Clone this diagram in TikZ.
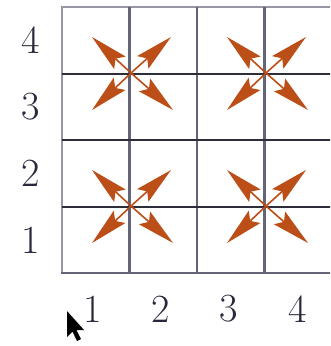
\documentclass[tikz,border=0pt]{standalone}
\definecolor{arrowc}{RGB}{188,78,24}
\definecolor{vline}{RGB}{100,100,120}
\definecolor{hline}{RGB}{45,45,60}
\definecolor{outline}{RGB}{150,150,165}
\definecolor{labc}{RGB}{40,40,60}
\tikzset{
  outerline/.style={draw=outline, line width=2pt},
  vgrid/.style={draw=vline, line width=2.2pt},
  hgrid/.style={draw=hline, line width=2pt},
  shaft/.style={draw=arrowc, line width=1.6pt, shorten >=12pt},
  headk/.pic={\fill[arrowc] (0,0) -- (-38,-8.5) -- (-32,0) -- (-38,8.5) -- cycle;},
  lab/.style={text=labc, font=\fontsize{40}{40}\selectfont, inner sep=0pt},
}
\begin{document}
\begin{tikzpicture}[x=1pt,y=-1pt]
\useasboundingbox (0,0) rectangle (330,346);
\clip (0,0) rectangle (330,346);
\fill[white] (0,0) rectangle (330,346);
% grid
\draw[outerline] (332,7) -- (62,7) -- (62,273);
\foreach \x in {129.5,197,264.5,332} \draw[vgrid] (\x,7) -- (\x,273);
\foreach \y in {73.5,140,206.5} \draw[hgrid] (62,\y) -- (332,\y);
\draw[vgrid] (61,273) -- (332,273);
% arrow centres
\coordinate (c1) at (131,73);
\coordinate (c2) at (266,73);
\coordinate (c3) at (131,206);
\coordinate (c4) at (266,206);
\foreach \c in {c1,c2,c3,c4}{
  \coordinate (\c ul) at ([shift={(-39,-36)}]\c);
  \coordinate (\c ur) at ([shift={(40,-36)}]\c);
  \coordinate (\c ll) at ([shift={(-39,37)}]\c);
  \coordinate (\c lr) at ([shift={(42,37)}]\c);
  \draw[shaft] (\c) -- (\c ul);
  \draw[shaft] (\c) -- (\c ur);
  \draw[shaft] (\c) -- (\c ll);
  \draw[shaft] (\c) -- (\c lr);
  \pic[rotate=137.3] at (\c ul) {headk};
  \pic[rotate=42] at (\c ur) {headk};
  \pic[rotate=223.5] at (\c ll) {headk};
  \pic[rotate=-41.4] at (\c lr) {headk};
}
% labels
\node[lab] (y4) at (31,40) {4};
\node[lab] (y3) at (31,107) {3};
\node[lab] (y2) at (31,173) {2};
\node[lab] (y1) at (31,240) {1};
\node[lab] (x1) at (93,309) {1};
\node[lab] (x2) at (161,309) {2};
\node[lab] (x3) at (229,309) {3};
\node[lab] (x4) at (298,309) {4};
% cursor
\fill[black] (67,311) -- (67,337) -- (72.5,331.5) -- (77,341) -- (81,339) -- (76.5,330) -- (84,330) -- cycle;
\end{tikzpicture}
\end{document}
